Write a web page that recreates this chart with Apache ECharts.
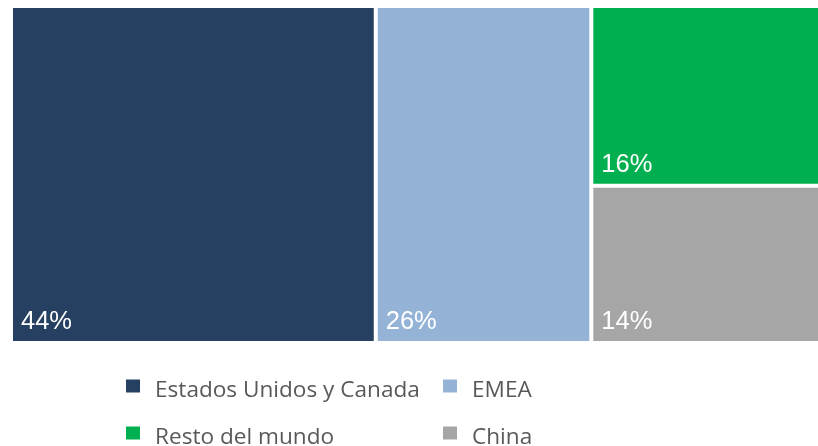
<!DOCTYPE html>
<html><head><meta charset="utf-8">
<script src="https://cdn.jsdelivr.net/npm/echarts@6/dist/echarts.min.js"></script>
<style>html,body{margin:0;padding:0;background:#fff}#c{width:818px;height:446px}</style>
</head><body><div id="c"></div>
<script>
const categories = ['Estados Unidos y Canada', 'EMEA', 'Resto del mundo', 'China'];
const values = [44, 26, 16, 14];
const colors = ['#254061', '#95B3D7', '#00B050', '#A6A6A6'];

const chart = echarts.init(document.getElementById('c'), null, {renderer: 'canvas'});
const treeData = categories.map((n, i) => ({name: n, value: values[i], itemStyle: {color: colors[i]}}));
const pieData = categories.map((n, i) => ({name: n, value: values[i], itemStyle: {color: colors[i]}}));
const legendText = {
  color: '#595959', fontSize: 22.6, fontFamily: 'Open Sans', padding: [0, 0, 0, 10],
  rich: {t: {color: '#595959', fontSize: 22.6, fontFamily: 'Open Sans', padding: [9, 0, 0, 0]}}
};
const legendPos = [[126, 379], [443, 379], [126, 426], [443, 426]];
chart.setOption({
  animation: false,
  legend: categories.map((n, i) => ({
    data: [n], left: legendPos[i][0], top: legendPos[i][1], padding: 0,
    itemWidth: 14, itemHeight: 13, icon: 'rect', textStyle: legendText, selectedMode: false,
    formatter: '{t|{name}}'
  })),
  series: [
    {
      type: 'treemap',
      left: 13, top: 8, right: -20, bottom: 105,
      roam: false, nodeClick: false,
      breadcrumb: {show: false},
      squareRatio: 1,
      levels: [
        {itemStyle: {gapWidth: 4, borderWidth: 0}},
        {itemStyle: {borderWidth: 0}}
      ],
      label: {
        show: true, position: 'insideBottomLeft',
        formatter: p => p.value + '%',
        color: '#fff', fontSize: 25.5, fontFamily: 'Liberation Sans',
        padding: [0, 0, 6, 8]
      },
      data: treeData
    },
    {type: 'pie', radius: [0, 0], center: [-100, -100], label: {show: false}, silent: true, data: pieData}
  ]
});
</script></body></html>
